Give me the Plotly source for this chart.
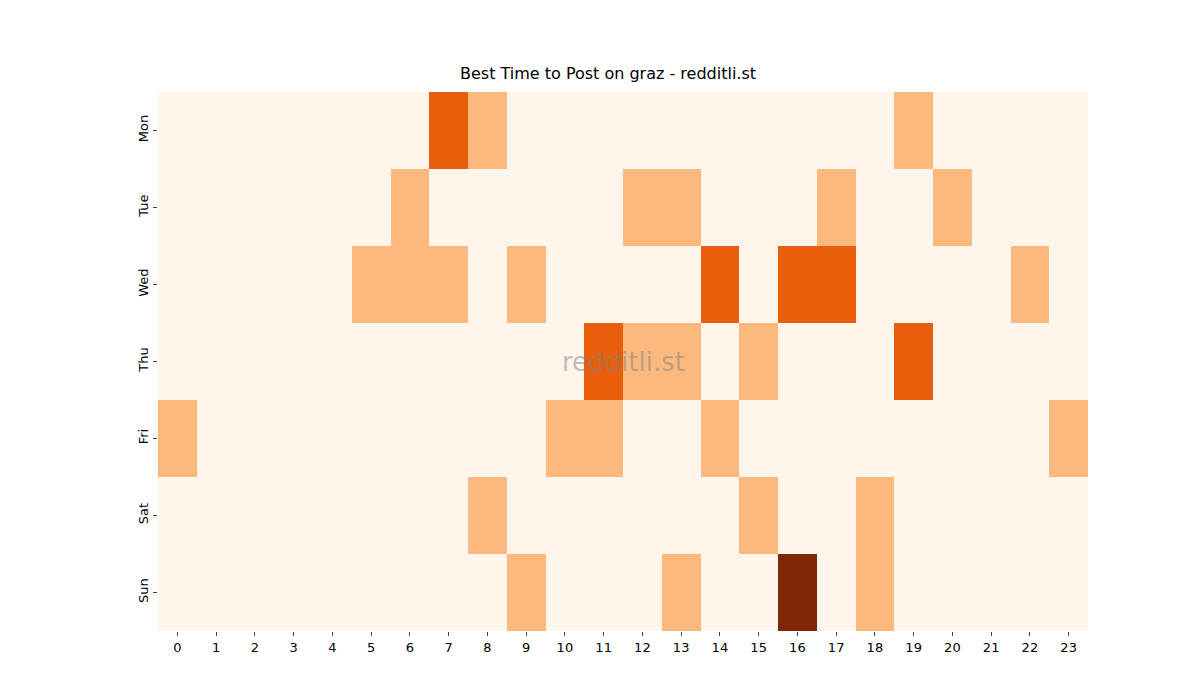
import plotly.graph_objects as go

days = ['Mon', 'Tue', 'Wed', 'Thu', 'Fri', 'Sat', 'Sun']
hours = list(range(24))

# activity level per day (0 = none ... 3 = best)
mon = [0,0,0,0,0,0,0,2,1,0,0,0,0,0,0,0,0,0,0,1,0,0,0,0]
tue = [0,0,0,0,0,0,1,0,0,0,0,0,1,1,0,0,0,1,0,0,1,0,0,0]
wed = [0,0,0,0,0,1,1,1,0,1,0,0,0,0,2,0,2,2,0,0,0,0,1,0]
thu = [0,0,0,0,0,0,0,0,0,0,0,2,1,1,0,1,0,0,0,2,0,0,0,0]
fri = [1,0,0,0,0,0,0,0,0,0,1,1,0,0,1,0,0,0,0,0,0,0,0,1]
sat = [0,0,0,0,0,0,0,0,1,0,0,0,0,0,0,1,0,0,1,0,0,0,0,0]
sun = [0,0,0,0,0,0,0,0,0,1,0,0,0,1,0,0,3,0,1,0,0,0,0,0]
z = [mon, tue, wed, thu, fri, sat, sun]

fig = go.Figure(go.Heatmap(
    z=z, x=hours, y=days,
    colorscale=[[0, '#fff5eb'], [1/3, '#fdb97d'], [2/3, '#e95e0d'], [1, '#7f2704']],
    zmin=0, zmax=3, showscale=False, xgap=0, ygap=0,
    hovertemplate='%{y} %{x}:00<extra></extra>'
))

fig.update_layout(
    width=1200, height=700,
    title=dict(text='Best Time to Post on graz - redditli.st', x=0.5, y=0.915,
               xanchor='center', font=dict(size=16, color='black')),
    font=dict(family='DejaVu Sans', size=13, color='black'),
    margin=dict(l=150, r=120, t=84, b=77),
    paper_bgcolor='white', plot_bgcolor='white',
    xaxis=dict(tickmode='array', tickvals=hours, ticks='outside', ticklen=4,
               showgrid=False, zeroline=False, range=[-0.5, 23.5]),
    yaxis=dict(autorange='reversed', tickangle=-90, ticks='outside', ticklen=4,
               showgrid=False, zeroline=False),
    annotations=[dict(text='redditli.st', x=0.5, y=0.5, xref='paper', yref='paper',
                      showarrow=False, font=dict(size=26, color='rgba(128,128,128,0.5)'))]
)

fig.write_html("out.html")
